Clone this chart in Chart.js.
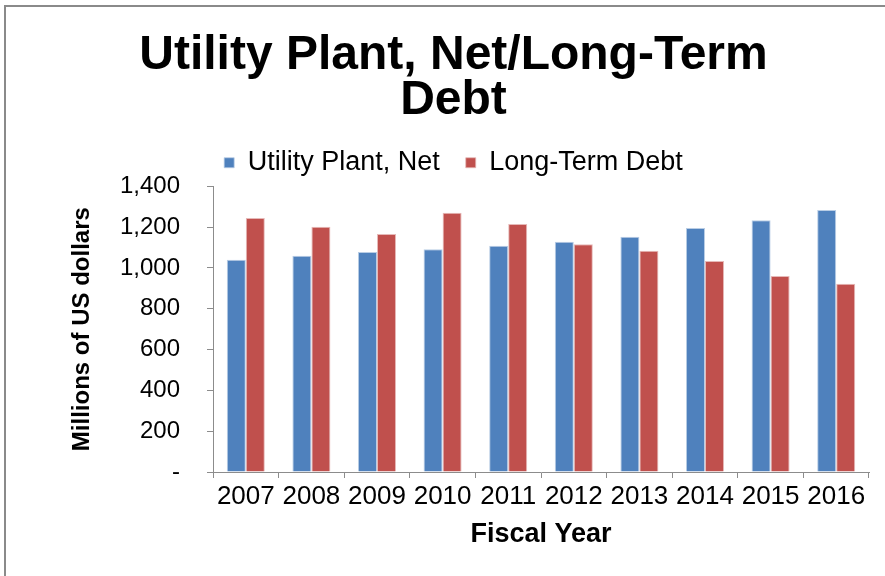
<!DOCTYPE html>
<html>
<head>
<meta charset="utf-8">
<script src="https://cdn.jsdelivr.net/npm/chart.js@4/dist/chart.umd.min.js"></script>
<style>
  html, body { margin: 0; padding: 0; background: #ffffff; }
  #wrap { width: 885px; height: 576px; position: relative; }
</style>
</head>
<body>
<div id="wrap"><canvas id="c" width="885" height="576"></canvas></div>
<script>
const categories = ['2007','2008','2009','2010','2011','2012','2013','2014','2015','2016'];
const utilityPlantNet = [1040, 1060, 1078, 1091, 1109, 1128, 1153, 1195, 1233, 1283];
const longTermDebt = [1245, 1201, 1166, 1270, 1215, 1116, 1084, 1034, 960, 922];
const yTickValues = [0, 200, 400, 600, 800, 1000, 1200, 1400];
const yTickLabels = ['-', '200', '400', '600', '800', '1,000', '1,200', '1,400'];
const seriesNames = ['Utility Plant, Net', 'Long-Term Debt'];
const chartTitle = ['Utility Plant, Net/Long-Term', 'Debt'];
const xTitle = 'Fiscal Year';
const yTitle = 'Millions of US dollars';

const FONT = "'Liberation Sans', Arial, sans-serif";
const AXIS = '#8c8c8c';

const frame = {
  id: 'frame',
  beforeDraw(chart) {
    const ctx = chart.ctx;
    ctx.save();
    ctx.fillStyle = '#ffffff';
    ctx.fillRect(0, 0, chart.width, chart.height);
    ctx.fillStyle = '#8a8a8a';
    ctx.fillRect(4, 5, chart.width - 4, 2);
    ctx.fillRect(4, 5, 2, chart.height - 5);
    ctx.restore();
  }
};

new Chart(document.getElementById('c'), {
  type: 'bar',
  data: {
    labels: categories,
    datasets: [
      { label: seriesNames[0], data: utilityPlantNet, backgroundColor: '#4F81BD', borderColor: '#B9CDE5', borderWidth: {top:1,left:1,right:1,bottom:0} },
      { label: seriesNames[1], data: longTermDebt, backgroundColor: '#C0504D', borderColor: '#E6B9B8', borderWidth: {top:1,left:1,right:1,bottom:0} }
    ]
  },
  options: {
    responsive: false,
    animation: false,
    devicePixelRatio: 1,
    layout: { padding: { left: 38, right: 16, top: 0, bottom: 0 } },
    datasets: { bar: { categoryPercentage: 0.58, barPercentage: 1.0 } },
    plugins: {
      title: {
        display: true,
        text: chartTitle,
        color: '#000000',
        font: { family: FONT, size: 48, weight: 'bold', lineHeight: 0.94 },
        padding: { top: 33, bottom: 0 }
      },
      legend: {
        display: true,
        position: 'top',
        labels: {
          color: '#000000',
          font: { family: FONT, size: 27 },
          boxWidth: 10,
          boxHeight: 10,
          padding: 26
        }
      },
      tooltip: { enabled: false }
    },
    scales: {
      x: {
        grid: { display: true, drawOnChartArea: false, drawTicks: true, tickLength: 6, color: AXIS, offset: true },
        border: { display: true, color: AXIS, width: 1 },
        ticks: { color: '#000000', font: { family: FONT, size: 26 }, padding: 3, maxRotation: 0, autoSkip: false },
        title: { display: true, text: xTitle, color: '#000000', font: { family: FONT, size: 27, weight: 'bold', lineHeight: 1.2 }, padding: { top: 0, bottom: 25 } },
        afterFit(scale) { scale.height = 104; }
      },
      y: {
        min: 0,
        max: 1400,
        afterBuildTicks(scale) { scale.ticks = yTickValues.map(v => ({ value: v })); },
        grid: { display: true, drawOnChartArea: false, drawTicks: true, tickLength: 6, color: AXIS },
        border: { display: true, color: AXIS, width: 1 },
        ticks: {
          color: '#000000',
          font: { family: FONT, size: 24 },
          padding: 27,
          callback(value) { const i = yTickValues.indexOf(value); return i >= 0 ? yTickLabels[i] : ''; }
        },
        title: { display: true, text: yTitle, color: '#000000', font: { family: FONT, size: 24, weight: 'bold', lineHeight: 1.2 }, padding: { top: 30, bottom: 0 } },
        afterFit(scale) { scale.width = 175; }
      }
    }
  },
  plugins: [frame]
});
</script>
</body>
</html>
